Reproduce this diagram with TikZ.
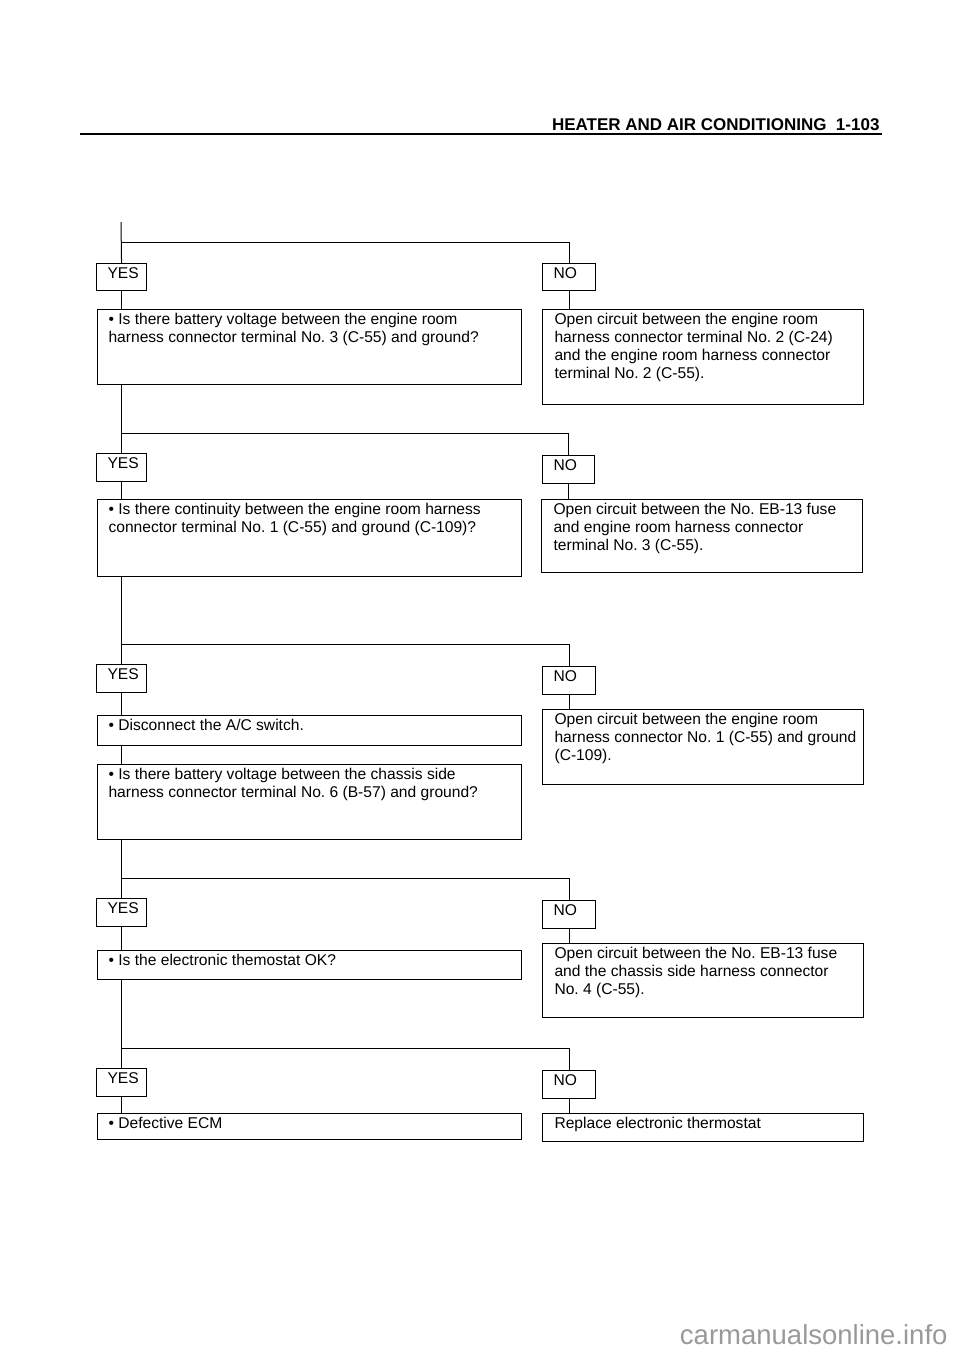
\documentclass[tikz,border=0pt]{standalone}
\usepackage{fontspec}
\setmainfont{Liberation Sans}
\frenchspacing
\newcommand\bxt[3]{\parbox[c][#2][t]{#1}{\raggedright #3}}
\begin{document}
\begin{tikzpicture}[x=1pt,y=-1pt,line width=1pt,
  every node/.style={font=\fontsize{15.6}{18}\selectfont, inner xsep=11pt, inner ysep=4pt, anchor=north west},
  boxd/.style={draw, line width=1.1pt},
  conn/.style={line width=1pt}]
\useasboundingbox (0,0) rectangle (960,1358);
% header
\node[anchor=base east, inner sep=0, font=\fontsize{17}{20}\selectfont\bfseries] (hdr) at (880,130) {HEATER AND AIR CONDITIONING\ \ 1-103};
\draw[line width=1.3pt] (80,134) coordinate (hl) -- (882,134) coordinate (hr);
% row 1
\coordinate (t0) at (121,222);
\coordinate (j1) at (121,242);
\node[boxd] (yes1) at (96,263) {\bxt{28pt}{19pt}{YES}};
\node[boxd] (no1) at (542,263) {\bxt{31pt}{19pt}{NO}};
\node[boxd] (a1) at (97,309) {\bxt{402pt}{67pt}{\textbullet\ Is there battery voltage between the engine room\\harness connector terminal No. 3 (C-55) and ground?}};
\node[boxd, inner xsep=12pt] (b1) at (542,309) {\bxt{297pt}{87pt}{Open circuit between the engine room\\harness connector terminal No. 2 (C-24)\\and the engine room harness connector\\terminal No. 2 (C-55).}};
\draw[conn] (t0) -- (yes1.north);
\draw[conn] (j1) -| (no1.north);
\draw[conn] (yes1.south) -- (yes1.south |- a1.north);
\draw[conn] (no1.south) -- (no1.south |- b1.north);
% row 2
\coordinate (j2) at (121,433);
\node[boxd] (yes2) at (96,453) {\bxt{28pt}{20pt}{YES}};
\node[boxd] (no2) at (542,455) {\bxt{30pt}{20pt}{NO}};
\node[boxd] (a2) at (97,499) {\bxt{402pt}{69pt}{\textbullet\ Is there continuity between the engine room harness\\connector terminal No. 1 (C-55) and ground (C-109)?}};
\node[boxd, inner xsep=12pt] (b2) at (541,499) {\bxt{297pt}{65pt}{Open circuit between the No. EB-13 fuse\\and engine room harness connector\\terminal No. 3 (C-55).}};
\draw[conn] (yes2.north |- a1.south) -- (yes2.north);
\draw[conn] (j2) -| (no2.north);
\draw[conn] (yes2.south) -- (yes2.south |- a2.north);
\draw[conn] (no2.south) -- (no2.south |- b2.north);
% row 3
\coordinate (j3) at (121,644);
\node[boxd] (yes3) at (96,664) {\bxt{28pt}{20pt}{YES}};
\node[boxd] (no3) at (542,666) {\bxt{31pt}{20pt}{NO}};
\node[boxd] (a3a) at (97,715) {\bxt{402pt}{22pt}{\textbullet\ Disconnect the A/C switch.}};
\node[boxd] (a3b) at (97,764) {\bxt{402pt}{67pt}{\textbullet\ Is there battery voltage between the chassis side\\harness connector terminal No. 6 (B-57) and ground?}};
\node[boxd, inner xsep=12pt] (b3) at (542,709) {\bxt{297pt}{67pt}{Open circuit between the engine room\\\mbox{harness connector No. 1 (C-55) and ground}\\(C-109).}};
\draw[conn] (yes3.north |- a2.south) -- (yes3.north);
\draw[conn] (j3) -| (no3.north);
\draw[conn] (yes3.south) -- (yes3.south |- a3a.north);
\draw[conn] (yes3.south |- a3a.south) -- (yes3.south |- a3b.north);
\draw[conn] (no3.south) -- (no3.south |- b3.north);
% row 4
\coordinate (j4) at (121,878);
\node[boxd] (yes4) at (96,898) {\bxt{28pt}{20pt}{YES}};
\node[boxd] (no4) at (542,900) {\bxt{31pt}{20pt}{NO}};
\node[boxd] (a4) at (97,950) {\bxt{402pt}{21pt}{\textbullet\ Is the electronic themostat OK?}};
\node[boxd, inner xsep=12pt] (b4) at (542,943) {\bxt{297pt}{66pt}{Open circuit between the No. EB-13 fuse\\and the chassis side harness connector\\No. 4 (C-55).}};
\draw[conn] (yes4.north |- a3b.south) -- (yes4.north);
\draw[conn] (j4) -| (no4.north);
\draw[conn] (yes4.south) -- (yes4.south |- a4.north);
\draw[conn] (no4.south) -- (no4.south |- b4.north);
% row 5
\coordinate (j5) at (121,1048);
\node[boxd] (yes5) at (96,1068) {\bxt{28pt}{20pt}{YES}};
\node[boxd] (no5) at (542,1070) {\bxt{31pt}{20pt}{NO}};
\node[boxd] (a5) at (97,1113) {\bxt{402pt}{18pt}{\textbullet\ Defective ECM}};
\node[boxd, inner xsep=12pt] (b5) at (542,1113) {\bxt{297pt}{20pt}{Replace electronic thermostat}};
\draw[conn] (yes5.north |- a4.south) -- (yes5.north);
\draw[conn] (j5) -| (no5.north);
\draw[conn] (yes5.south) -- (yes5.south |- a5.north);
\draw[conn] (no5.south) -- (no5.south |- b5.north);
% watermark
\node[anchor=base east, inner sep=0, text=black!40, font=\fontsize{27.5}{30}\selectfont] (wm) at (948,1344) {carmanualsonline.info};
\end{tikzpicture}
\end{document}
